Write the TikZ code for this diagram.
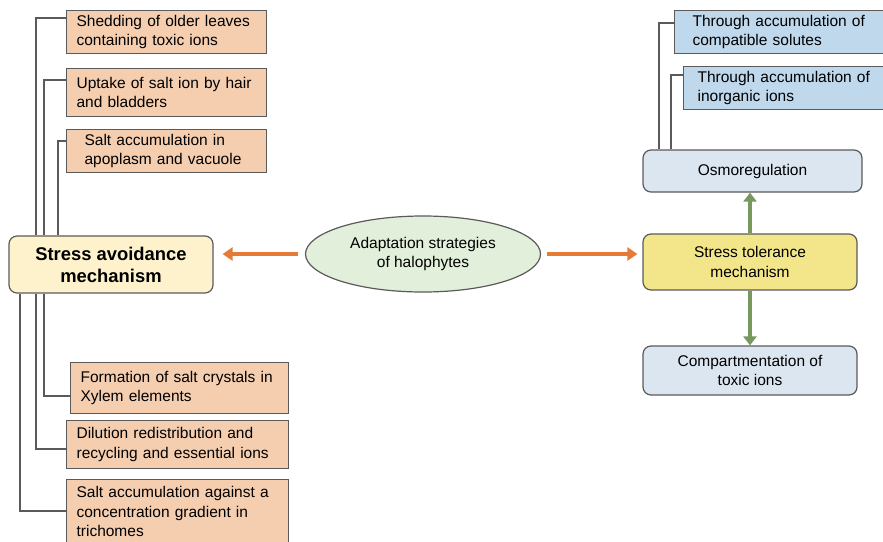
\documentclass[tikz,border=0pt]{standalone}
\usepackage{fontspec}
\setmainfont{Liberation Sans}
\usetikzlibrary{arrows.meta,shapes.geometric}
\definecolor{salmon}{HTML}{F5CEB0}
\definecolor{cream}{HTML}{FEF2CD}
\definecolor{mint}{HTML}{E2EFDA}
\definecolor{butter}{HTML}{F3E68A}
\definecolor{pale}{HTML}{DCE6F1}
\definecolor{sky}{HTML}{BFD8EC}
\definecolor{tang}{HTML}{E47C38}
\definecolor{sage}{HTML}{78985E}
\definecolor{wire}{HTML}{5A5A5A}

\begin{document}
\begin{tikzpicture}[x=1pt, y=-1pt,
    txt/.style={font=\fontsize{15.5}{19.5}\selectfont},
    leaf/.style={txt, draw=wire, line width=1.2pt, fill=salmon, anchor=north west,
                 align=left, inner ysep=0pt, inner xsep=10pt},
    tip/.style={txt, draw=wire, line width=1.2pt, fill=sky, anchor=north west,
                align=left, inner ysep=0pt, inner xsep=9pt},
    mech/.style={txt, draw=wire, line width=1.2pt, rounded corners=8pt, align=center,
                 inner sep=0pt},
    link/.style={draw=wire, line width=1.2pt},
    oarr/.style={tang, line width=4pt, -{Triangle[length=10pt, width=13pt]}},
    garr/.style={sage, line width=4pt, -{Triangle[length=9pt, width=13pt]}}]
  \useasboundingbox (0,0) rectangle (883,541);
  \clip (0,0) rectangle (883,541);

  \node[mech, fill=cream, minimum width=204pt, minimum height=57pt,
        font=\fontsize{18.4}{22}\selectfont\bfseries] (avoid) at (111,264.5)
        {Stress avoidance\\ mechanism};
  \node[mech, ellipse, rounded corners=0pt, fill=mint, minimum width=235pt,
        minimum height=76pt] (goal) at (423,254) {Adaptation strategies\\ of halophytes};
  \node[mech, fill=butter, minimum width=214pt, minimum height=56pt] (tol) at (750,262)
        {Stress tolerance\\ mechanism};
  \node[mech, fill=pale, minimum width=219pt, minimum height=42pt] (osmo) at (752.5,171)
        {Osmoregulation};
  \node[mech, fill=pale, minimum width=214pt, minimum height=49pt] (comp) at (750,370.5)
        {Compartmentation of\\ toxic ions};

  \node[leaf, text width=180pt, minimum height=43pt] (shed) at (66,10)
        {Shedding of older leaves\\ containing toxic ions};
  \node[leaf, text width=180pt, minimum height=48pt] (hair) at (66,68)
        {Uptake of salt ion by hair\\ and bladders};
  \node[leaf, text width=164pt, inner xsep=18pt, minimum height=43pt] (apo) at (66,129)
        {Salt accumulation in\\ apoplasm and vacuole};
  \node[leaf, text width=198pt, minimum height=51pt] (xyl) at (70,362)
        {Formation of salt crystals in\\ Xylem elements};
  \node[leaf, text width=202pt, minimum height=48pt] (dil) at (66,420)
        {Dilution redistribution and\\ recycling and essential ions};
  \node[leaf, text width=202pt, minimum height=64pt] (tri) at (66,479)
        {Salt accumulation against a\\ concentration gradient in\\ trichomes};

  \node[tip, text width=222pt, inner xsep=18pt, minimum height=43pt] (solu) at (674,10)
        {Through accumulation of\\ compatible solutes};
  \node[tip, text width=221pt, inner xsep=14pt, minimum height=43pt] (inorg) at (683,66)
        {Through accumulation of\\ inorganic ions};

  \draw[link] (avoid.north -| 36,0) |- ([yshift=-8pt]shed.north west);
  \draw[link] (avoid.north -| 44,0) |- ([yshift=-12pt]hair.north west);
  \draw[link] (avoid.north -| 58,0) |- ([yshift=-12pt]apo.north west);
  \draw[link] (avoid.south -| 44,0) |- ([yshift=-34pt]xyl.north west);
  \draw[link] (avoid.south -| 36,0) |- ([yshift=-29pt]dil.north west);
  \draw[link] (avoid.south -| 20,0) |- ([yshift=-32pt]tri.north west);
  \draw[link] (osmo.north -| 659,0) |- ([yshift=-13pt]solu.north west);
  \draw[link] (osmo.north -| 671,0) |- ([yshift=-9pt]inorg.north west);

  \draw[oarr] ([xshift=-7pt]goal.west) -- ([xshift=9pt]avoid.east |- goal.west);
  \draw[oarr] ([xshift=6pt]goal.east) -- ([xshift=-5pt]tol.west |- goal.east);
  \draw[garr] (tol.north) -- (tol.north |- osmo.south);
  \draw[garr] (tol.south) -- (comp.north);
\end{tikzpicture}
\end{document}
